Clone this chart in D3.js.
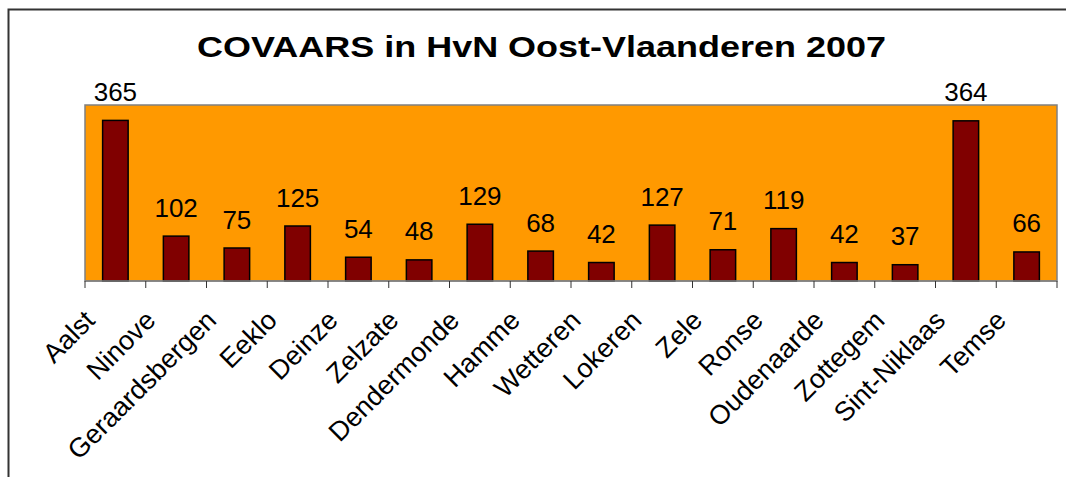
<!DOCTYPE html>
<html>
<head>
<meta charset="utf-8">
<script src="https://cdn.jsdelivr.net/npm/d3@7"></script>
<style>
  html, body { margin: 0; padding: 0; background: #fff; }
  svg { display: block; }
  text { font-family: "Liberation Sans", Arial, Helvetica, sans-serif; }
</style>
</head>
<body>
<svg id="chart" width="1066" height="477"></svg>
<script>
const categories = ["Aalst","Ninove","Geraardsbergen","Eeklo","Deinze","Zelzate","Dendermonde","Hamme","Wetteren","Lokeren","Zele","Ronse","Oudenaarde","Zottegem","Sint-Niklaas","Temse"];
const values = [365,102,75,125,54,48,129,68,42,127,71,119,42,37,364,66];
const titleText = "COVAARS in HvN Oost-Vlaanderen 2007";
const yDomain = [0, 400];

const svg = d3.select("#chart");
const W = 1066, H = 477;
const plot = { left: 85, right: 1057, top: 105, bottom: 281 };

// outer frame (top and left visible)
svg.append("path")
  .attr("d", `M8.5,${H} L8.5,9.5 L${W},9.5`)
  .attr("fill", "none").attr("stroke", "#333").attr("stroke-width", 2);

const x = d3.scaleBand().domain(categories).range([plot.left, plot.right]).paddingInner(0).paddingOuter(0);
const y = d3.scaleLinear().domain(yDomain).range([plot.bottom, plot.top]);

// plot area
svg.append("rect")
  .attr("x", plot.left).attr("y", plot.top)
  .attr("width", plot.right - plot.left).attr("height", plot.bottom - plot.top)
  .attr("fill", "#FF9900").attr("stroke", "#808080").attr("stroke-width", 1.5);

// bars
const barW = x.bandwidth() * 0.42;
svg.append("g").selectAll("rect").data(values).join("rect")
  .attr("x", (d, i) => x(categories[i]) + (x.bandwidth() - barW) / 2)
  .attr("y", d => y(d))
  .attr("width", barW)
  .attr("height", d => y(0) - y(d))
  .attr("fill", "#800000").attr("stroke", "#000").attr("stroke-width", 1.5);

// value labels
svg.append("g").selectAll("text").data(values).join("text")
  .attr("x", (d, i) => x(categories[i]) + x.bandwidth() / 2)
  .attr("y", d => y(d) - 19.5)
  .attr("text-anchor", "middle")
  .attr("font-size", 26)
  .attr("fill", "#000")
  .text(d => d);

// x axis with ticks at category boundaries
const axisG = svg.append("g");
axisG.append("line")
  .attr("x1", plot.left).attr("x2", plot.right)
  .attr("y1", plot.bottom).attr("y2", plot.bottom)
  .attr("stroke", "#808080").attr("stroke-width", 1.5);
const boundaries = categories.map(c => x(c)).concat([plot.right]);
axisG.selectAll("line.tick").data(boundaries).join("line")
  .attr("class", "tick")
  .attr("x1", d => d).attr("x2", d => d)
  .attr("y1", plot.bottom).attr("y2", plot.bottom + 7)
  .attr("stroke", "#333").attr("stroke-width", 1);

// category labels rotated
axisG.selectAll("text").data(categories).join("text")
  .attr("transform", d => `translate(${x(d) + x.bandwidth() / 2 - 19},322) rotate(-45)`)
  .attr("text-anchor", "end")
  .attr("font-size", 27)
  .attr("fill", "#000")
  .text(d => d);

// title
svg.append("text")
  .attr("x", 197).attr("y", 57)
  .attr("font-size", 29).attr("font-weight", "bold")
  .attr("textLength", 689).attr("lengthAdjust", "spacingAndGlyphs")
  .attr("fill", "#000")
  .text(titleText);
</script>
</body>
</html>
